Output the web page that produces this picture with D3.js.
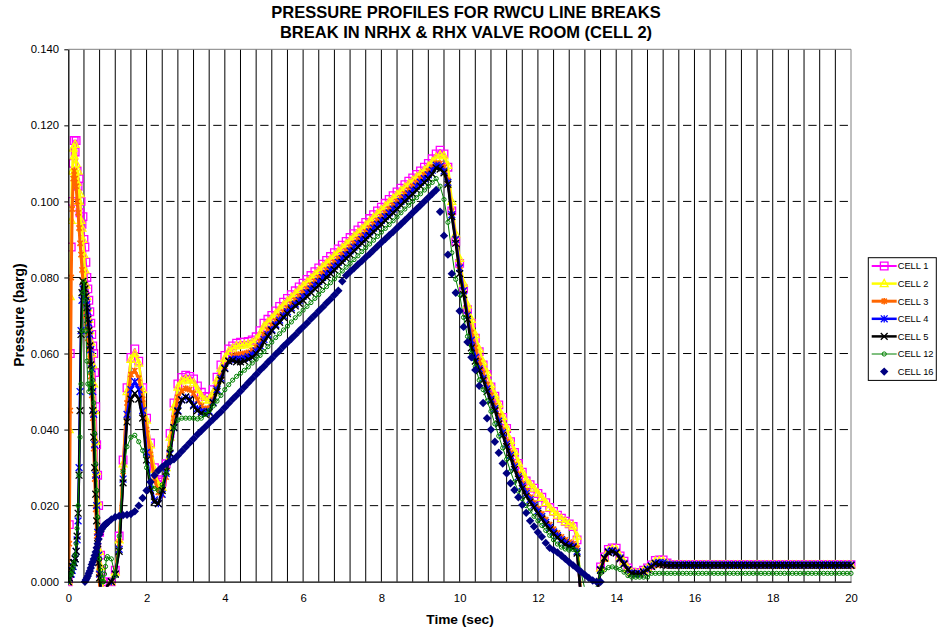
<!DOCTYPE html>
<html><head><meta charset="utf-8">
<script src="https://cdn.jsdelivr.net/npm/d3@7"></script>
<style>
body{margin:0;background:#fff}
svg{display:block}
text{font-family:Arial,"Liberation Sans",sans-serif;fill:#000}
</style>
</head><body>
<svg id="chart" width="937" height="634"></svg>
<script>
// ---------------- DATA ----------------
const titleLines = ["PRESSURE PROFILES FOR RWCU LINE BREAKS", "BREAK IN NRHX & RHX VALVE ROOM (CELL 2)"];
const xTitle = "Time (sec)";
const yTitle = "Pressure (barg)";
const seriesNames = ["CELL 1","CELL 2","CELL 3","CELL 4","CELL 5","CELL 12","CELL 16"];
const yTicks = [0,0.02,0.04,0.06,0.08,0.10,0.12,0.14];
const xTicks = [0,2,4,6,8,10,12,14,16,18,20];

const timesEarly = [0,0.025,0.05,0.075,0.1,0.125,0.15,0.175,0.2,0.225,0.25,0.275,0.3,0.325,0.35,0.375,0.4,0.425,0.45,0.475,0.5,0.525,0.55,0.575,0.6,0.625,0.65,0.675,0.7,0.725,0.75,0.775,0.8,0.825,0.85,0.875,0.9,0.925,0.95,0.975,1.0];
const timesLate = [
1.1,1.2,1.3,1.4,1.5,1.6,1.7,1.8,1.9,2.0,
2.1,2.2,2.3,2.4,2.5,2.6,2.7,2.8,2.9,3.0,
3.1,3.2,3.3,3.4,3.5,3.6,3.7,3.8,3.9,4.0,
4.1,4.2,4.3,4.4,4.5,4.6,4.7,4.8,4.9,5.0,
5.1,5.2,5.3,5.4,5.5,5.6,5.7,5.8,5.9,6.0,
6.1,6.2,6.3,6.4,6.5,6.6,6.7,6.8,6.9,7.0,
7.1,7.2,7.3,7.4,7.5,7.6,7.7,7.8,7.9,8.0,
8.1,8.2,8.3,8.4,8.5,8.6,8.7,8.8,8.9,9.0,
9.1,9.2,9.3,9.4,9.5,9.6,9.7,9.8,9.9,10.0,
10.1,10.2,10.3,10.4,10.5,10.6,10.7,10.8,10.9,11.0,
11.1,11.2,11.3,11.4,11.5,11.6,11.7,11.8,11.9,12.0,
12.1,12.2,12.3,12.4,12.5,12.6,12.7,12.8,12.9,13.0,
13.1,13.2,13.3,13.4,13.5,13.6,13.7,13.8,13.9,14.0,
14.1,14.2,14.3,14.4,14.5,14.6,14.7,14.8,14.9,15.0,
15.1,15.2,15.3,15.4,15.5,15.6,15.7,15.8,15.9,16.0,
16.1,16.2,16.3,16.4,16.5,16.6,16.7,16.8,16.9,17.0,
17.1,17.2,17.3,17.4,17.5,17.6,17.7,17.8,17.9,18.0,
18.1,18.2,18.3,18.4,18.5,18.6,18.7,18.8,18.9,19.0,
19.1,19.2,19.3,19.4,19.5,19.6,19.7,19.8,19.9,20.0];

const cell1Early = [0,.015,.060,.088,.100,.110,.116,.113,.116,.108,.104,.106,.097,.100,.094,.096,.090,.088,.084,.080,.077,.074,.071,.068,.065,.062,.060,.055,.046,.036,.028,.020,.013,.007,.003,0,-.002,-.003,-.003,-.002,-.001];
const cell1Late = [
.0000,.0030,.0120,.0320,.0510,.0590,.0612,.0580,.0510,.0430,
.0365,.0300,.0268,.0262,.0310,.0390,.0470,.0520,.0537,.0543,
.0540,.0533,.0515,.0498,.0487,.0486,.0505,.0538,.0570,.0595,
.0612,.0620,.0627,.0630,.0630,.0632,.0636,.0644,.0660,.0680,
.0690,.0700,.0712,.0724,.0735,.0745,.0755,.0765,.0775,.0785,
.0795,.0805,.0815,.0825,.0835,.0845,.0855,.0865,.0875,.0885,
.0895,.0905,.0915,.0925,.0935,.0945,.0955,.0965,.0975,.0985,
.0995,.1005,.1015,.1025,.1035,.1044,.1053,.1062,.1071,.1080,
.1090,.1100,.1112,.1125,.1135,.1125,.1090,.0975,.0895,.0837,
.0770,.0715,.0680,.0640,.0605,.0570,.0545,.0512,.0488,.0465,
.0432,.0403,.0368,.0340,.0311,.0288,.0265,.0255,.0246,.0232,
.0222,.0208,.0195,.0185,.0175,.0167,.0159,.0152,.0145,.0110,
-.0030,-.0050,-.0050,-.0050,-.0030,.0039,.0065,.0085,.0089,.0088,
.0068,.0054,.0036,.0025,.0024,.0024,.0030,.0036,.0044,.0056,
.0057,.0057,.0049,.0045,.0045,.0045,.0045,.0045,.0045,.0045,
.0045,.0045,.0045,.0045,.0045,.0045,.0045,.0045,.0045,.0045,
.0045,.0045,.0045,.0045,.0045,.0045,.0045,.0045,.0045,.0045,
.0045,.0045,.0045,.0045,.0045,.0045,.0045,.0045,.0045,.0045,
.0045,.0045,.0045,.0045,.0045,.0045,.0045,.0045,.0045,.0045];

const cell2Early = [0,.040,.075,.095,.108,.114,.112,.115,.110,.105,.108,.100,.102,.095,.093,.090,.086,.082,.078,.075,.072,.069,.066,.063,.060,.057,.052,.045,.037,.029,.021,.014,.008,.004,.001,-.001,-.002,-.003,-.003,-.002,-.001];
const cell2Late = [
.0000,.0025,.0110,.0310,.0500,.0585,.0600,.0575,.0505,.0425,
.0360,.0295,.0255,.0248,.0300,.0380,.0460,.0512,.0528,.0533,
.0530,.0523,.0505,.0488,.0478,.0478,.0497,.0530,.0562,.0588,
.0606,.0614,.0620,.0622,.0623,.0625,.0629,.0637,.0652,.0672,
.0683,.0693,.0705,.0717,.0728,.0738,.0748,.0758,.0768,.0778,
.0788,.0798,.0808,.0818,.0828,.0838,.0848,.0858,.0868,.0878,
.0888,.0898,.0908,.0918,.0928,.0938,.0948,.0958,.0968,.0978,
.0988,.0998,.1008,.1018,.1028,.1037,.1046,.1055,.1064,.1073,
.1082,.1092,.1104,.1116,.1122,.1120,.1095,.1000,.0915,.0850,
.0785,.0728,.0690,.0650,.0612,.0578,.0550,.0518,.0492,.0468,
.0435,.0405,.0372,.0343,.0314,.0290,.0268,.0256,.0246,.0233,
.0222,.0208,.0195,.0184,.0175,.0166,.0158,.0152,.0147,.0120,
-.0030,-.0050,-.0050,-.0050,-.0030,.0036,.0062,.0082,.0086,.0085,
.0066,.0052,.0035,.0024,.0023,.0023,.0029,.0035,.0043,.0054,
.0055,.0055,.0048,.0044,.0044,.0044,.0044,.0044,.0044,.0044,
.0044,.0044,.0044,.0044,.0044,.0044,.0044,.0044,.0044,.0044,
.0044,.0044,.0044,.0044,.0044,.0044,.0044,.0044,.0044,.0044,
.0044,.0044,.0044,.0044,.0044,.0044,.0044,.0044,.0044,.0044,
.0044,.0044,.0044,.0044,.0044,.0044,.0044,.0044,.0044,.0044];

const cell3Early = [0,.010,.045,.080,.098,.106,.108,.106,.104,.100,.097,.093,.089,.086,.082,.079,.076,.073,.070,.067,.064,.061,.058,.054,.049,.043,.035,.027,.019,.012,.006,.002,-.001,-.003,-.003,-.003,-.003,-.003,-.003,-.002,-.001];
const cell3Late = [
.0000,.0020,.0100,.0290,.0470,.0545,.0555,.0535,.0480,.0400,
.0335,.0270,.0235,.0228,.0275,.0350,.0430,.0485,.0502,.0508,
.0505,.0495,.0478,.0462,.0455,.0456,.0478,.0510,.0540,.0565,
.0582,.0592,.0597,.0598,.0600,.0603,.0608,.0617,.0632,.0650,
.0662,.0674,.0686,.0698,.0709,.0720,.0730,.0740,.0750,.0760,
.0770,.0780,.0790,.0800,.0810,.0820,.0830,.0840,.0850,.0860,
.0870,.0880,.0890,.0900,.0910,.0920,.0930,.0940,.0950,.0960,
.0970,.0980,.0990,.1000,.1010,.1020,.1030,.1040,.1050,.1060,
.1070,.1080,.1090,.1100,.1100,.1090,.1055,.0975,.0900,.0830,
.0765,.0705,.0655,.0615,.0580,.0548,.0518,.0490,.0463,.0435,
.0398,.0368,.0338,.0308,.0282,.0258,.0238,.0222,.0207,.0192,
.0178,.0163,.0150,.0138,.0128,.0118,.0110,.0104,.0100,.0088,
-.0040,-.0060,-.0060,-.0060,-.0040,.0032,.0060,.0077,.0082,.0078,
.0062,.0048,.0032,.0023,.0021,.0021,.0026,.0033,.0041,.0045,
.0045,.0046,.0046,.0043,.0043,.0043,.0043,.0043,.0043,.0043,
.0043,.0043,.0043,.0043,.0043,.0043,.0043,.0043,.0043,.0043,
.0043,.0043,.0043,.0043,.0043,.0043,.0043,.0043,.0043,.0043,
.0043,.0043,.0043,.0043,.0043,.0043,.0043,.0043,.0043,.0043,
.0043,.0043,.0043,.0043,.0043,.0043,.0043,.0043,.0043,.0043];

const cell4Early = [0,.001,.002,.002,.003,.004,.005,.006,.008,.011,.016,.030,.050,.066,.074,.077,.076,.075,.074,.073,.071,.068,.065,.061,.056,.050,.044,.036,.028,.020,.013,.007,.002,-.001,-.003,-.003,-.003,-.003,-.003,-.002,-.001];
const cell4Late = [
.0000,.0020,.0085,.0270,.0440,.0505,.0526,.0505,.0450,.0340,
.0255,.0215,.0205,.0230,.0285,.0335,.0405,.0450,.0478,.0485,
.0480,.0465,.0455,.0448,.0445,.0448,.0472,.0505,.0535,.0562,
.0580,.0585,.0585,.0585,.0588,.0592,.0598,.0607,.0620,.0637,
.0650,.0663,.0676,.0688,.0700,.0710,.0720,.0730,.0740,.0750,
.0760,.0770,.0780,.0790,.0800,.0810,.0820,.0830,.0840,.0850,
.0860,.0870,.0880,.0890,.0900,.0910,.0920,.0930,.0940,.0950,
.0960,.0970,.0980,.0990,.1000,.1010,.1020,.1030,.1040,.1050,
.1060,.1070,.1082,.1095,.1092,.1080,.1050,.0965,.0900,.0825,
.0765,.0700,.0635,.0590,.0560,.0535,.0507,.0480,.0455,.0422,
.0392,.0362,.0332,.0302,.0276,.0252,.0232,.0216,.0201,.0186,
.0171,.0156,.0143,.0131,.0121,.0111,.0103,.0097,.0093,.0080,
-.0040,-.0060,-.0060,-.0060,-.0040,.0032,.0063,.0079,.0082,.0078,
.0063,.0048,.0032,.0023,.0021,.0021,.0026,.0034,.0042,.0048,
.0050,.0050,.0046,.0044,.0044,.0044,.0044,.0044,.0044,.0044,
.0044,.0044,.0044,.0044,.0044,.0044,.0044,.0044,.0044,.0044,
.0044,.0044,.0044,.0044,.0044,.0044,.0044,.0044,.0044,.0044,
.0044,.0044,.0044,.0044,.0044,.0044,.0044,.0044,.0044,.0044,
.0044,.0044,.0044,.0044,.0044,.0044,.0044,.0044,.0044,.0044];

const cell5Early = [0,.001,.002,.003,.004,.005,.005,.006,.008,.012,.018,.028,.045,.065,.076,.079,.078,.077,.075,.072,.069,.066,.062,.057,.051,.045,.038,.030,.023,.016,.010,.005,.001,-.002,-.003,-.003,-.003,-.003,-.003,-.002,-.001];
const cell5Late = [
.0000,.0020,.0080,.0260,.0420,.0480,.0495,.0480,.0430,.0320,
.0240,.0210,.0205,.0240,.0290,.0338,.0405,.0448,.0478,.0486,
.0478,.0462,.0450,.0443,.0440,.0445,.0470,.0500,.0530,.0560,
.0580,.0582,.0578,.0578,.0580,.0585,.0590,.0600,.0612,.0630,
.0645,.0660,.0672,.0682,.0695,.0705,.0715,.0725,.0732,.0740,
.0750,.0760,.0770,.0780,.0790,.0800,.0810,.0820,.0830,.0840,
.0850,.0860,.0870,.0880,.0890,.0900,.0910,.0920,.0930,.0940,
.0950,.0960,.0970,.0980,.0990,.1000,.1010,.1020,.1030,.1040,
.1050,.1060,.1072,.1088,.1085,.1075,.1045,.0960,.0890,.0810,
.0755,.0690,.0615,.0580,.0555,.0530,.0500,.0475,.0450,.0415,
.0385,.0355,.0325,.0295,.0270,.0245,.0225,.0210,.0195,.0180,
.0165,.0150,.0137,.0126,.0116,.0106,.0098,.0093,.0090,.0075,
-.0040,-.0060,-.0060,-.0060,-.0040,.0030,.0062,.0077,.0080,.0075,
.0060,.0046,.0031,.0022,.0020,.0020,.0025,.0032,.0040,.0048,
.0045,.0044,.0043,.0043,.0043,.0043,.0043,.0043,.0043,.0043,
.0043,.0043,.0043,.0043,.0043,.0043,.0043,.0043,.0043,.0043,
.0043,.0043,.0043,.0043,.0043,.0043,.0043,.0043,.0043,.0043,
.0043,.0043,.0043,.0043,.0043,.0043,.0043,.0043,.0043,.0043,
.0043,.0043,.0043,.0043,.0043,.0043,.0043,.0043,.0043,.0043];

const cell12Early = [0,.001,.002,.002,.003,.004,.005,.007,.010,.014,.020,.028,.038,.052,.066,.076,.079,.074,.066,.058,.052,.050,.052,.055,.056,.053,.047,.039,.031,.024,.017,.011,.006,.003,.001,0,0,.002,.004,.006,.0066];
const cell12Late = [
.0060,.0015,.0120,.0290,.0355,.0380,.0385,.0368,.0345,.0300,
.0265,.0245,.0240,.0255,.0285,.0350,.0405,.0425,.0430,.0430,
.0430,.0430,.0428,.0430,.0440,.0450,.0462,.0475,.0490,.0505,
.0518,.0530,.0540,.0548,.0556,.0565,.0575,.0585,.0595,.0605,
.0618,.0630,.0642,.0652,.0662,.0672,.0683,.0694,.0704,.0714,
.0724,.0734,.0745,.0755,.0766,.0776,.0786,.0796,.0806,.0817,
.0827,.0837,.0847,.0857,.0868,.0878,.0888,.0898,.0908,.0919,
.0929,.0939,.0949,.0959,.0970,.0980,.0990,.1000,.1010,.1020,
.1030,.1040,.1050,.1060,.1040,.1005,.0945,.0865,.0795,.0755,
.0695,.0645,.0600,.0565,.0530,.0505,.0475,.0448,.0415,.0383,
.0352,.0322,.0290,.0262,.0238,.0218,.0200,.0186,.0172,.0160,
.0148,.0135,.0122,.0110,.0099,.0091,.0086,.0083,.0085,.0080,
.0025,-.0020,-.0030,-.0030,-.0010,.0022,.0031,.0037,.0039,.0036,
.0032,.0025,.0016,.0012,.0012,.0012,.0012,.0012,.0022,.0022,
.0022,.0022,.0022,.0022,.0022,.0022,.0022,.0022,.0022,.0022,
.0022,.0022,.0022,.0022,.0022,.0022,.0022,.0022,.0022,.0022,
.0022,.0022,.0022,.0022,.0022,.0022,.0022,.0022,.0022,.0022,
.0022,.0022,.0022,.0022,.0022,.0022,.0022,.0022,.0022,.0022,
.0022,.0022,.0022,.0022,.0022,.0022,.0022,.0022,.0022,.0022];

const cell16Early = [null,null,null,null,null,null,null,null,null,null,null,null,null,null,null,null,null,0,.0005,.0010,.0015,.0022,.0028,.0036,.0045,.0052,.0060,.0069,.0078,.0089,.0100,.0112,.0124,.0132,.0138,.0142,.0146,.0149,.0151,.0153,.0155];
const cell16Late = [
.0164,.0170,.0173,.0175,.0176,.0178,.0185,.0200,.0220,.0240,
.0262,.0280,.0292,.0302,.0310,.0316,.0322,.0332,.0343,.0354,
.0365,.0376,.0387,.0397,.0407,.0417,.0427,.0437,.0447,.0458,
.0469,.0480,.0490,.0501,.0512,.0523,.0534,.0545,.0556,.0566,
.0577,.0587,.0598,.0608,.0619,.0629,.0639,.0649,.0660,.0670,
.0680,.0691,.0701,.0712,.0722,.0733,.0743,.0754,.0765,.0790,
.0805,.0815,.0824,.0834,.0843,.0853,.0862,.0872,.0882,.0892,
.0901,.0911,.0920,.0930,.0940,.0950,.0960,.0970,.0980,.0990,
.1000,.1010,.1020,.1030,.0973,.0910,.0860,.0810,.0760,.0712,
.0670,.0630,.0590,.0557,.0515,.0470,.0430,.0400,.0368,.0339,
.0311,.0285,.0259,.0241,.0222,.0202,.0181,.0160,.0145,.0130,
.0118,.0102,.0089,.0083,.0077,.0069,.0060,.0051,.0043,.0035,
.0026,.0018,.0010,.0003,.0000,.0000,null,null,null,null,
null,null,null,null,null,null,null,null,null,null,
null,null,null,null,null,null,null,null,null,null,
null,null,null,null,null,null,null,null,null,null,
null,null,null,null,null,null,null,null,null,null,
null,null,null,null,null,null,null,null,null,null,
null,null,null,null,null,null,null,null,null,null];

// ---------------- CHART ----------------
const times = timesEarly.concat(timesLate);
const seriesValues = [
  cell1Early.concat(cell1Late), cell2Early.concat(cell2Late), cell3Early.concat(cell3Late),
  cell4Early.concat(cell4Late), cell5Early.concat(cell5Late), cell12Early.concat(cell12Late),
  cell16Early.concat(cell16Late)
];

const styles = [
  {color:"#FF00FF", lw:2,   marker:"square"},
  {color:"#FFFF00", lw:2.5, marker:"triangle"},
  {color:"#FF6600", lw:3,   marker:"asterisk"},
  {color:"#0000FF", lw:2.5, marker:"star"},
  {color:"#000000", lw:2.5, marker:"x"},
  {color:"#008000", lw:1,   marker:"circle"},
  {color:"#000080", lw:0,   marker:"diamond"}
];

const svg = d3.select("#chart");
const x = d3.scaleLinear().domain([0,20]).range([68.3,851]);
const y = d3.scaleLinear().domain([0,0.14]).range([581.7,49.3]);

// title
svg.append("g").selectAll("text").data(titleLines).join("text")
  .attr("x",466).attr("y",(d,i)=>17.5+i*20.8)
  .attr("text-anchor","middle").attr("font-size","16.5px").attr("font-weight","bold").text(d=>d);

// vertical grid lines every 0.4 s
const vGrid = d3.range(1,50).map(k=>k*0.4);
svg.append("g").selectAll("line").data(vGrid).join("line")
  .attr("x1",d=>x(d)).attr("x2",d=>x(d)).attr("y1",y(0.14)).attr("y2",y(0))
  .attr("stroke","#000").attr("stroke-width",1);

// horizontal dashed grid lines
svg.append("g").selectAll("line").data(yTicks.filter(v=>v>0&&v<0.14)).join("line")
  .attr("x1",x(0)).attr("x2",x(20)).attr("y1",d=>y(d)).attr("y2",d=>y(d))
  .attr("stroke","#000").attr("stroke-width",1).attr("stroke-dasharray","8.3,7.36").attr("stroke-dashoffset",-4);

// plot border (top/right gray)
svg.append("path").attr("d",`M${x(0)},${y(0.14)}H${x(20)}V${y(0)}`)
  .attr("fill","none").attr("stroke","#808080").attr("stroke-width",1);

// clip
svg.append("clipPath").attr("id","clip").append("rect")
  .attr("x",x(0)).attr("y",y(0.14)-6).attr("width",x(20)-x(0)+6).attr("height",y(0)-y(0.14)+11);

function markerPath(type){
  switch(type){
    case "square": return "M-3.8,-3.8H3.8V3.8H-3.8Z";
    case "triangle": return "M0,-4.2L3.9,3H-3.9Z";
    case "asterisk": return "M-2.6,-2.6L2.6,2.6M-2.6,2.6L2.6,-2.6M0,-3.2V3.2";
    case "star": return "M-3.4,-3.4L3.4,3.4M-3.4,3.4L3.4,-3.4M0,-3.6V3.6";
    case "x": return "M-3.4,-3.4L3.4,3.4M-3.4,3.4L3.4,-3.4";
    case "circle": return "M2.1,0A2.1,2.1 0 1,1 -2.1,0A2.1,2.1 0 1,1 2.1,0Z";
    case "diamond": return "M0,-4.2L4.2,0L0,4.2L-4.2,0Z";
  }
}
function drawMarkers(g, pts, st, sx, sy){
  const filled = st.marker==="diamond";
  g.selectAll("path.m").data(pts).join("path").attr("class","m")
    .attr("transform",d=>`translate(${sx(d)},${sy(d)})`)
    .attr("d",markerPath(st.marker))
    .attr("fill",filled?st.color:"none")
    .attr("stroke",filled?"none":st.color)
    .attr("stroke-width",st.marker==="circle"?1:(st.marker==="asterisk"?1.6:1.3));
}

const plot = svg.append("g").attr("clip-path","url(#clip)");
seriesValues.forEach((vals,si)=>{
  const st = styles[si];
  const pts = times.map((t,i)=>({t, v: vals[i]}));
  const g = plot.append("g");
  if(st.lw>0){
    const line = d3.line().defined(d=>d.v!=null).x(d=>x(d.t)).y(d=>y(d.v));
    g.append("path").attr("d",line(pts)).attr("fill","none")
      .attr("stroke",st.color).attr("stroke-width",st.lw).attr("stroke-linejoin","round");
  }
  drawMarkers(g, pts.filter(d=>d.v!=null && d.v>=0), st, d=>x(d.t), d=>y(d.v));
});

// axes
const yAxis = d3.axisLeft(y).tickValues(yTicks).tickFormat(d3.format(".3f")).tickSizeInner(4).tickSizeOuter(0).tickPadding(5.3);
const gy = svg.append("g").attr("transform",`translate(${x(0)},0)`).call(yAxis);
gy.select(".domain").attr("stroke","#000").attr("stroke-width",1.3);
gy.selectAll("text").attr("font-size","11.3px").attr("font-family","Arial, 'Liberation Sans', sans-serif");

const xAxis = d3.axisBottom(x).tickValues(xTicks).tickFormat(d3.format("d")).tickSize(0).tickPadding(12);
const gx = svg.append("g").attr("transform",`translate(0,${y(0)})`).call(xAxis);
gx.select(".domain").attr("stroke","#000").attr("stroke-width",1.3);
gx.selectAll("text").attr("font-size","11.3px").attr("font-family","Arial, 'Liberation Sans', sans-serif");

// axis titles
svg.append("text").attr("x",460).attr("y",624).attr("text-anchor","middle")
  .attr("font-size","13.7px").attr("font-weight","bold").text(xTitle);
svg.append("text").attr("transform","translate(23.5,315) rotate(-90)").attr("text-anchor","middle")
  .attr("font-size","14px").attr("font-weight","bold").text(yTitle);

// legend
const lg = svg.append("g");
lg.append("rect").attr("x",868.3).attr("y",257.7).attr("width",68).attr("height",122.7)
  .attr("fill","#fff").attr("stroke","#000").attr("stroke-width",1);
seriesNames.forEach((name,i)=>{
  const st = styles[i];
  const cy = 266 + i*17.6;
  const gi = lg.append("g");
  if(st.lw>0) gi.append("line").attr("x1",871.7).attr("x2",896.7).attr("y1",cy).attr("y2",cy)
    .attr("stroke",st.color).attr("stroke-width",st.lw);
  drawMarkers(gi,[0],st,()=>884.2,()=>cy);
  gi.append("text").attr("x",897.7).attr("y",cy+3.4).attr("font-size","9.3px").text(name);
});
</script>
</body></html>
